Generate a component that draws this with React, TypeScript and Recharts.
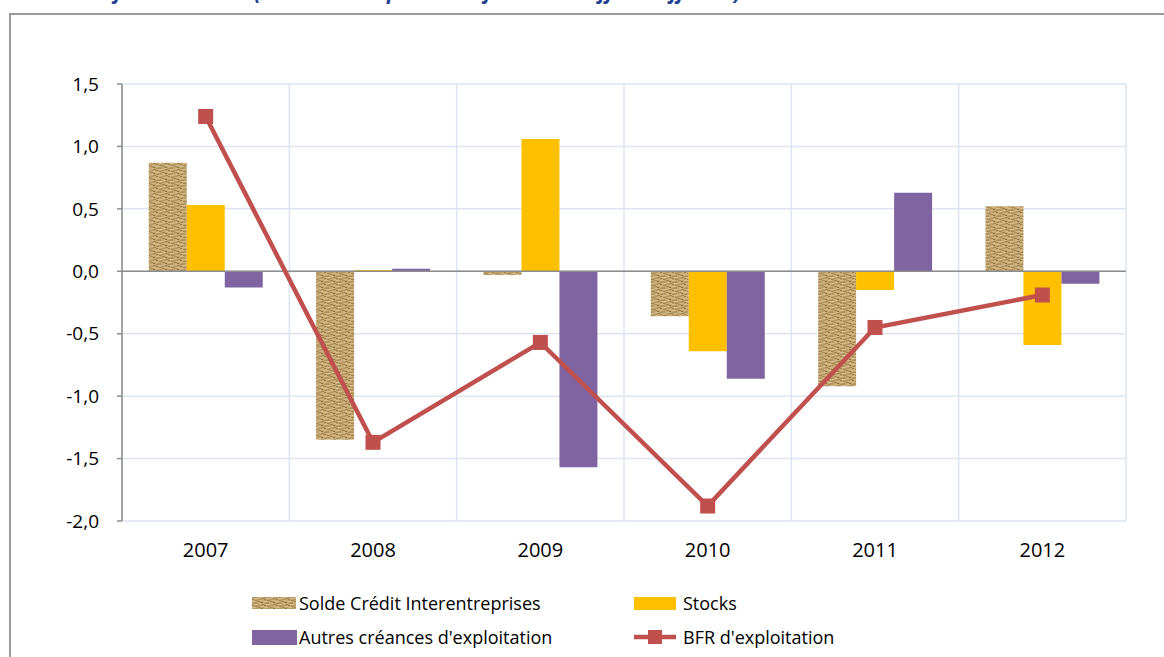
import {
  ComposedChart,
  Bar,
  Line,
  XAxis,
  YAxis,
  CartesianGrid,
  ReferenceLine
} from "recharts";

const years = ["2007", "2008", "2009", "2010", "2011", "2012"];
const soldeCredit = [0.87, -1.35, -0.03, -0.36, -0.92, 0.52];
const stocks = [0.53, 0.01, 1.06, -0.64, -0.15, -0.59];
const autresCreances = [-0.13, 0.02, -1.57, -0.86, 0.63, -0.1];
const bfr = [1.24, -1.37, -0.57, -1.88, -0.45, -0.19];
const yTicks = [-2, -1.5, -1, -0.5, 0, 0.5, 1, 1.5];

const seriesNames = [
  "Solde Crédit Interentreprises",
  "Stocks",
  "Autres créances d'exploitation",
  "BFR d'exploitation"
];

const data = years.map((y, i) => ({
  year: y,
  solde: soldeCredit[i],
  stocks: stocks[i],
  autres: autresCreances[i],
  bfr: bfr[i]
}));

const FONT = "'Open Sans', sans-serif";
const RED = "#C0504D";

// burlap-like texture used for the first series
function BurlapPattern({ id }: { id: string }) {
  return (
    <pattern id={id} width="12" height="6" patternUnits="userSpaceOnUse">
      <rect width="12" height="6" fill="#c4a76f" />
      <rect x="0" y="0" width="5" height="1" fill="#ad9060" />
      <rect x="7" y="0" width="3" height="1" fill="#d2ba8a" />
      <rect x="2" y="1" width="4" height="1" fill="#d6c092" />
      <rect x="9" y="1" width="3" height="1" fill="#a68753" />
      <rect x="0" y="2" width="2" height="1" fill="#9f804d" />
      <rect x="5" y="2" width="5" height="1" fill="#b69966" />
      <rect x="3" y="3" width="3" height="1" fill="#a3854f" />
      <rect x="8" y="3" width="4" height="1" fill="#d0b785" />
      <rect x="0" y="4" width="4" height="1" fill="#d4bd8f" />
      <rect x="6" y="4" width="3" height="1" fill="#a88a56" />
      <rect x="2" y="5" width="3" height="1" fill="#b39561" />
      <rect x="9" y="5" width="2" height="1" fill="#8f7244" />
    </pattern>
  );
}

const SquareDot = (props: any) => {
  const { cx, cy } = props;
  if (cx == null || cy == null) return null;
  return <rect x={cx - 7.5} y={cy - 7.5} width={15} height={15} fill={RED} />;
};

function Swatch({ kind }: { kind: number }) {
  if (kind === 0) {
    return (
      <svg width={44} height={12} style={{ display: "block" }}>
        <defs>
          <BurlapPattern id="burlapLegend" />
        </defs>
        <rect width={44} height={12} fill="url(#burlapLegend)" />
      </svg>
    );
  }
  if (kind === 1) {
    return (
      <svg width={42} height={13} style={{ display: "block" }}>
        <rect width={42} height={13} fill="#FFC000" />
      </svg>
    );
  }
  if (kind === 2) {
    return (
      <svg width={45} height={15} style={{ display: "block" }}>
        <rect width={45} height={15} fill="#8064A2" />
      </svg>
    );
  }
  return (
    <svg width={42} height={14} style={{ display: "block" }}>
      <line x1={0} y1={7} x2={42} y2={7} stroke={RED} strokeWidth={4.5} />
      <rect x={14} y={0} width={14} height={14} fill={RED} />
    </svg>
  );
}

function LegendItem({ kind, label, gap }: { kind: number; label: string; gap: number }) {
  return (
    <div style={{ display: "flex", alignItems: "center", gap, height: 20 }}>
      <Swatch kind={kind} />
      <span style={{ fontSize: 18, lineHeight: "20px", color: "#000" }}>{label}</span>
    </div>
  );
}

export default function App() {
  return (
    <div
      style={{
        position: "absolute",
        left: 0,
        top: 0,
        width: 1164,
        height: 657,
        overflow: "hidden",
        background: "#fff",
        fontFamily: FONT
      }}
    >
      {/* title, mostly cut off at the top of the picture */}
      <div
        style={{
          position: "absolute",
          left: -92,
          top: -19,
          fontSize: 21,
          lineHeight: "21px",
          fontStyle: "italic",
          fontWeight: "bold",
          color: "#1f3f8f",
          whiteSpace: "nowrap",
          fontFamily: FONT
        }}
      >
        Les composantes majeures du BFR (variation en points de jours de chiffre d'affaires)
      </div>

      {/* frame */}
      <div
        style={{
          position: "absolute",
          left: 9,
          top: 13,
          width: 1200,
          height: 700,
          border: "2px solid #9a9a9a",
          boxSizing: "border-box"
        }}
      />

      <div style={{ position: "absolute", left: 0, top: 0 }}>
        <ComposedChart
          width={1164}
          height={657}
          data={data}
          margin={{ top: 84, right: 38, bottom: 0, left: 0 }}
          barCategoryGap="16%"
          barGap={0}
        >
          <defs>
            <BurlapPattern id="burlap" />
          </defs>
          <CartesianGrid
            stroke="#dde4f2"
            strokeWidth={1.5}
            verticalCoordinatesGenerator={({ offset }: any) =>
              Array.from(
                { length: years.length + 1 },
                (_, i) => offset.left + (i * offset.width) / years.length
              )
            }
          />
          <XAxis
            dataKey="year"
            height={136}
            axisLine={false}
            tickLine={false}
            tickSize={0}
            tickMargin={22}
            tick={{ fontSize: 20, fill: "#000", fontFamily: FONT }}
          />
          <YAxis
            width={122}
            domain={[-2, 1.5]}
            ticks={yTicks}
            interval={0}
            axisLine={{ stroke: "#8c8c8c", strokeWidth: 1.5 }}
            tickLine={{ stroke: "#8c8c8c", strokeWidth: 1.5 }}
            tickSize={5}
            tickMargin={18}
            tickFormatter={(v: number) => v.toFixed(1).replace(".", ",")}
            tick={{ fontSize: 19, fill: "#000", fontFamily: FONT }}
          />
          <Bar
            dataKey="solde"
            name={seriesNames[0]}
            fill="url(#burlap)"
            isAnimationActive={false}
          />
          <Bar
            dataKey="stocks"
            name={seriesNames[1]}
            fill="#FFC000"
            isAnimationActive={false}
          />
          <Bar
            dataKey="autres"
            name={seriesNames[2]}
            fill="#8064A2"
            isAnimationActive={false}
          />
          <ReferenceLine y={0} stroke="#8c8c8c" strokeWidth={1.5} />
          <Line
            dataKey="bfr"
            name={seriesNames[3]}
            stroke={RED}
            strokeWidth={4.5}
            dot={<SquareDot />}
            activeDot={false}
            isAnimationActive={false}
          />
        </ComposedChart>
      </div>

      {/* legend */}
      <div style={{ position: "absolute", left: 252, top: 593 }}>
        <LegendItem kind={0} label={seriesNames[0]} gap={3} />
      </div>
      <div style={{ position: "absolute", left: 634, top: 593 }}>
        <LegendItem kind={1} label={seriesNames[1]} gap={7} />
      </div>
      <div style={{ position: "absolute", left: 252, top: 627 }}>
        <LegendItem kind={2} label={seriesNames[2]} gap={2} />
      </div>
      <div style={{ position: "absolute", left: 634, top: 627 }}>
        <LegendItem kind={3} label={seriesNames[3]} gap={7} />
      </div>
    </div>
  );
}
